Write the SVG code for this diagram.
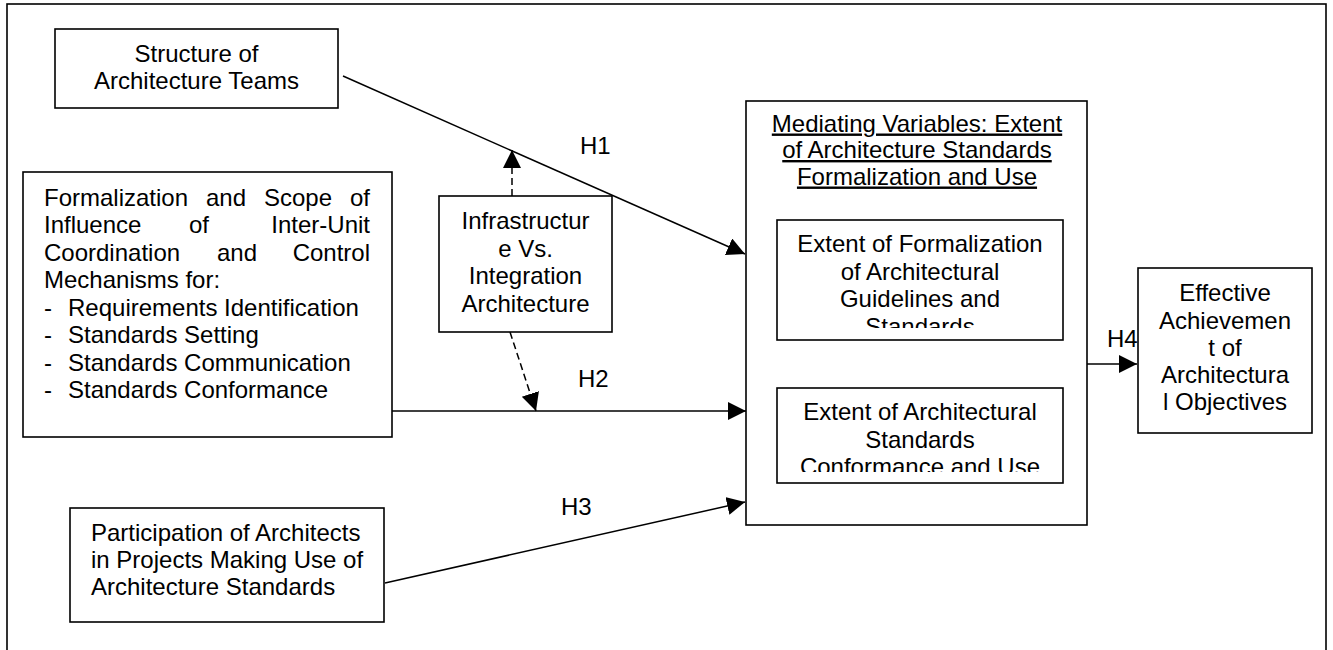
<svg xmlns="http://www.w3.org/2000/svg" width="1333" height="650" viewBox="0 0 1333 650">
<style>
  .box { fill: #fff; stroke: #000; stroke-width: 1.6; }
  .frame { fill: none; stroke: #000; stroke-width: 1.6; }
  text { font-family: "Liberation Sans", Arial, sans-serif; font-size: 24px; fill: #000; }
  .c { text-anchor: middle; }
  .e { text-anchor: end; }
  .ln { fill: none; stroke: #000; stroke-width: 1.5; }
  .dash { fill: none; stroke: #000; stroke-width: 1.5; stroke-dasharray: 7 4; }
</style>
<defs>
  <marker id="arr" markerUnits="userSpaceOnUse" markerWidth="19" markerHeight="19" refX="18" refY="9" orient="auto">
    <path d="M0,0 L18,9 L0,18 Z" fill="#000"/>
  </marker>
  <clipPath id="clip1"><rect x="777" y="220" width="286" height="108"/></clipPath>
  <clipPath id="clip2"><rect x="777" y="388" width="286" height="84"/></clipPath>
</defs>
<rect class="frame" x="7" y="4" width="1319" height="700"/>

<g id="connectors">
  <line class="ln" x1="343" y1="76" x2="745" y2="254" marker-end="url(#arr)"/>
  <line class="ln" x1="392" y1="411" x2="746" y2="411" marker-end="url(#arr)"/>
  <line class="ln" x1="385" y1="583" x2="745" y2="502" marker-end="url(#arr)"/>
  <line class="ln" x1="1087" y1="364" x2="1137" y2="364" marker-end="url(#arr)"/>
  <line class="dash" x1="512" y1="196" x2="512" y2="150" marker-end="url(#arr)"/>
  <line class="dash" x1="510" y1="332" x2="536" y2="411" marker-end="url(#arr)"/>
  <text x="580" y="154">H1</text>
  <text x="578" y="387">H2</text>
  <text x="561" y="515">H3</text>
  <text x="1107" y="347">H4</text>
</g>

<g id="structure">
  <rect class="box" x="55" y="29" width="283" height="79"/>
  <text class="c" x="196.5" y="62">Structure of</text>
  <text class="c" x="196.5" y="89">Architecture Teams</text>
</g>

<g id="formalization">
  <rect class="box" x="23" y="172" width="369" height="265"/>
  <text x="44" y="205.5">Formalization</text>
  <text class="c" x="226" y="205.5">and</text>
  <text class="c" x="298" y="205.5">Scope</text>
  <text class="e" x="370" y="205.5">of</text>
  <text x="44" y="233">Influence</text>
  <text class="c" x="199" y="233">of</text>
  <text class="e" x="370" y="233">Inter-Unit</text>
  <text x="44" y="260.5">Coordination</text>
  <text class="c" x="237" y="260.5">and</text>
  <text class="e" x="370" y="260.5">Control</text>
  <text x="44" y="288">Mechanisms for:</text>
  <text x="44" y="315.5">-</text><text x="68" y="315.5">Requirements Identification</text>
  <text x="44" y="343">-</text><text x="68" y="343">Standards Setting</text>
  <text x="44" y="370.5">-</text><text x="68" y="370.5">Standards Communication</text>
  <text x="44" y="398">-</text><text x="68" y="398">Standards Conformance</text>
</g>

<g id="infrastructure">
  <rect class="box" x="439" y="196" width="173" height="136"/>
  <text class="c" x="525.5" y="229">Infrastructur</text>
  <text class="c" x="525.5" y="256.5">e Vs.</text>
  <text class="c" x="525.5" y="284">Integration</text>
  <text class="c" x="525.5" y="311.5">Architecture</text>
</g>

<g id="participation">
  <rect class="box" x="70" y="508" width="314" height="114"/>
  <text x="91" y="541">Participation of Architects</text>
  <text x="91" y="568">in Projects Making Use of</text>
  <text x="91" y="595">Architecture Standards</text>
</g>

<g id="mediating">
  <rect class="box" x="746" y="101" width="341" height="424"/>
  <text class="c" x="917" y="131.5" text-decoration="underline">Mediating Variables: Extent</text>
  <text class="c" x="917" y="158" text-decoration="underline">of Architecture Standards</text>
  <text class="c" x="917" y="184.5" text-decoration="underline">Formalization and Use</text>
</g>

<g id="formalization-extent">
  <rect class="box" x="777" y="220" width="286" height="120"/>
  <g clip-path="url(#clip1)">
    <text class="c" x="920" y="252">Extent of Formalization</text>
    <text class="c" x="920" y="279.5">of Architectural</text>
    <text class="c" x="920" y="307">Guidelines and</text>
    <text class="c" x="920" y="334.5">Standards</text>
  </g>
</g>

<g id="conformance-extent">
  <rect class="box" x="777" y="388" width="286" height="95"/>
  <g clip-path="url(#clip2)">
    <text class="c" x="920" y="420">Extent of Architectural</text>
    <text class="c" x="920" y="447.5">Standards</text>
    <text class="c" x="920" y="475">Conformance and Use</text>
  </g>
</g>

<g id="effective">
  <rect class="box" x="1138" y="268" width="174" height="165"/>
  <text class="c" x="1225" y="301">Effective</text>
  <text class="c" x="1225" y="328.5">Achievemen</text>
  <text class="c" x="1225" y="356">t of</text>
  <text class="c" x="1225" y="383">Architectura</text>
  <text class="c" x="1225" y="410">l Objectives</text>
</g>
</svg>
